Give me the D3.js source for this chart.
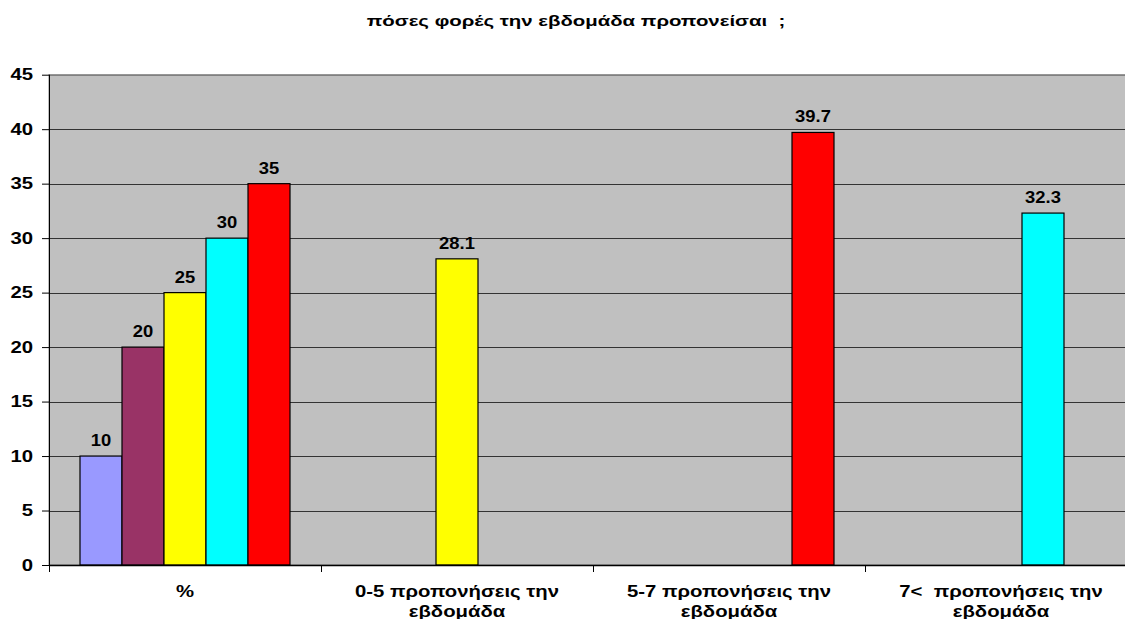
<!DOCTYPE html>
<html>
<head>
<meta charset="utf-8">
<script src="https://cdn.jsdelivr.net/npm/d3@7"></script>
<style>
  body { margin: 0; background: #fff; }
  text { font-family: "Liberation Sans", Arial, sans-serif; font-weight: bold; white-space: pre; }
</style>
</head>
<body>
<script>
// categories on the x axis (second line after the |)
const categories = ['%', '0-5 προπονήσεις την|εβδομάδα', '5-7 προπονήσεις την|εβδομάδα', '7<  προπονήσεις την|εβδομάδα']
// five series, null where a category has no bar
const seriesNames = ['s1', 's2', 's3', 's4', 's5']
const seriesColors = ['#9999FF', '#993366', '#FFFF00', '#00FFFF', '#FF0000']
const s1 = [10, null, null, null]
const s2 = [20, null, null, null]
const s3 = [25, 28.1, null, null]
const s4 = [30, null, null, 32.3]
const s5 = [35, null, 39.7, null]
const yTicks = [0, 5, 10, 15, 20, 25, 30, 35, 40, 45]
const title = 'πόσες φορές την εβδομάδα προπονείσαι  ;'

const series = [s1, s2, s3, s4, s5]

const width = 1125
const height = 619
//the original picture is stretched sideways, text too
const stretch = 1.27

//plot area, right side runs past the window like in the original
const margin = { top: 74.7, left: 49, bottom: 565, right: 1137 }

const svg = d3.select('body')
  .append('svg')
  .attr('width', width)
  .attr('height', height)

const xScale = d3.scaleBand()
  .domain(categories)
  .range([margin.left, margin.right])
  .paddingInner(0)
  .paddingOuter(0)

const xInner = d3.scaleBand()
  .domain(seriesNames)
  .range([0, xScale.bandwidth()])
  .paddingInner(0)
  .paddingOuter(31 / 42)

const yScale = d3.scaleLinear()
  .domain([0, 45])
  .range([margin.bottom, margin.top])

//grey plot background
svg.append('rect')
  .attr('x', margin.left)
  .attr('y', margin.top)
  .attr('width', margin.right - margin.left)
  .attr('height', margin.bottom - margin.top)
  .attr('fill', '#C0C0C0')
  .attr('stroke', '#808080')

//gridlines
svg.append('g')
  .selectAll('line')
  .data(yTicks.slice(1))
  .enter()
  .append('line')
    .attr('x1', margin.left)
    .attr('x2', margin.right)
    .attr('y1', d => Math.round(yScale(d)) + 0.5)
    .attr('y2', d => Math.round(yScale(d)) + 0.5)
    .attr('stroke', d => d === 45 ? '#808080' : '#333')
    .attr('stroke-width', 1)

//bars
const rows = []
categories.forEach((c, i) => {
  series.forEach((s, j) => {
    if (s[i] !== null) rows.push({ cat: c, name: seriesNames[j], color: seriesColors[j], value: s[i] })
  })
})

svg.append('g')
  .selectAll('rect')
  .data(rows)
  .enter()
  .append('rect')
    .attr('x', d => xScale(d.cat) + xInner(d.name))
    .attr('y', d => yScale(d.value))
    .attr('width', xInner.bandwidth())
    .attr('height', d => yScale(0) - yScale(d.value))
    .attr('fill', d => d.color)
    .attr('stroke', '#000')
    .attr('stroke-width', 1.2)

//value labels
svg.append('g')
  .selectAll('text')
  .data(rows)
  .enter()
  .append('text')
    .attr('transform', d => `translate(${xScale(d.cat) + xInner(d.name) + xInner.bandwidth() / 2},${yScale(d.value) - 10}) scale(1.15,1)`)
    .attr('text-anchor', 'middle')
    .attr('font-size', 16)
    .attr('fill', '#000')
    .text(d => d.value)

//y axis
const yAxis = d3.axisLeft(yScale)
  .tickValues(yTicks)
  .tickSize(7)
  .tickPadding(9)

const yG = svg.append('g')
  .attr('transform', `translate(${margin.left},0)`)
  .call(yAxis)
yG.select('.domain').attr('stroke', '#000').attr('d', `M0.5,${margin.top}V${margin.bottom}`)
yG.selectAll('text')
  .attr('font-size', 16)
  .attr('font-family', null)
  .attr('fill', '#000')
  .attr('x', -16 / stretch)
  .attr('transform', `scale(${stretch},1)`)

//x axis
const xAxis = d3.axisBottom(xScale)
  .tickSize(0)
  .tickFormat('')

const xG = svg.append('g')
  .attr('transform', `translate(0,${margin.bottom})`)
  .call(xAxis)
xG.select('.domain').attr('stroke', '#000').attr('stroke-width', 1.5)

//ticks between categories
xG.selectAll('.cat-tick')
  .data(categories.map(c => xScale(c)).concat([margin.right]))
  .enter()
  .append('line')
    .attr('x1', d => Math.round(d) + 0.5)
    .attr('x2', d => Math.round(d) + 0.5)
    .attr('y1', 0)
    .attr('y2', 7)
    .attr('stroke', '#000')

//category labels, two lines each
const catLabels = svg.append('g')
  .selectAll('text')
  .data(categories)
  .enter()
  .append('text')
    .attr('transform', d => `translate(${xScale(d) + xScale.bandwidth() / 2},0) scale(${stretch},1)`)
    .attr('text-anchor', 'middle')
    .attr('font-size', 16)
    .attr('fill', '#000')

catLabels.each(function (d) {
  const parts = d.split('|')
  parts.forEach((p, k) => {
    d3.select(this).append('tspan')
      .attr('x', 0)
      .attr('y', 597 + k * 20)
      .text(p)
  })
})

//title
svg.append('text')
  .attr('transform', `translate(576,26) scale(1.36,1)`)
  .attr('text-anchor', 'middle')
  .attr('font-size', 15)
  .attr('fill', '#000')
  .text(title)
</script>
</body>
</html>
